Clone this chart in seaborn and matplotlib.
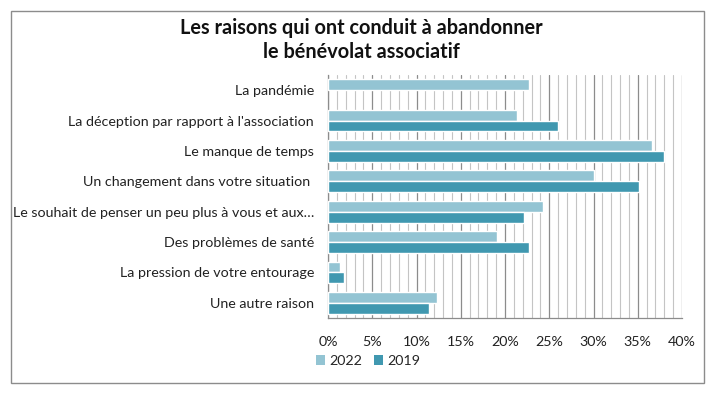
import pandas as pd
import matplotlib.pyplot as plt
import seaborn as sns
from matplotlib.ticker import MultipleLocator, PercentFormatter
from matplotlib.patches import Rectangle, Patch

# Values (percent)
raisons = [
    "La pandémie",
    "La déception par rapport à l'association",
    "Le manque de temps",
    "Un changement dans votre situation ",
    "Le souhait de penser un peu plus à vous et aux…",
    "Des problèmes de santé",
    "La pression de votre entourage",
    "Une autre raison",
]
val_2022 = [22.7, 21.3, 36.6, 30.0, 24.3, 19.1, 1.4, 12.3]
val_2019 = [None, 26.0, 38.0, 35.1, 22.1, 22.7, 1.8, 11.4]
annees = ["2022", "2019"]
couleurs = ["#93C4D3", "#4098B0"]

df = pd.DataFrame({
    "Raison": raisons * 2,
    "Annee": ["2022"] * len(raisons) + ["2019"] * len(raisons),
    "Valeur": val_2022 + val_2019,
})

sns.set_style("white")
plt.rcParams["font.family"] = ["Lato", "DejaVu Sans"]

fig = plt.figure(figsize=(7.23, 3.98), dpi=100)
ax = fig.add_axes([328 / 723, 1 - 318 / 398, (682 - 328) / 723, (318 - 75) / 398])

sns.barplot(data=df, x="Valeur", y="Raison", hue="Annee", hue_order=annees,
            palette=couleurs, orient="h", width=0.72, saturation=1,
            dodge=True, ax=ax, legend=False, zorder=3)

ax.set_xlim(0, 40)
ax.xaxis.set_major_locator(MultipleLocator(5))
ax.xaxis.set_minor_locator(MultipleLocator(1))
ax.xaxis.set_major_formatter(PercentFormatter(decimals=0))
ax.grid(which="major", axis="x", color="#8c8c8c", linewidth=0.9, zorder=0)
ax.grid(which="minor", axis="x", color="#c4c4c4", linewidth=0.8, zorder=0)
ax.set_axisbelow(True)
ax.set_xlabel("")
ax.set_ylabel("")
ax.tick_params(axis="both", which="both", length=0, labelsize=10.3, colors="#222222")
ax.tick_params(axis="x", pad=13)
ax.tick_params(axis="y", pad=10)
for s in ["top", "right"]:
    ax.spines[s].set_visible(False)
for s in ["left", "bottom"]:
    ax.spines[s].set_color("#8c8c8c")
    ax.spines[s].set_linewidth(0.9)

fig.text(0.5, 1 - 40 / 398, "Les raisons qui ont conduit à abandonner\nle bénévolat associatif",
         ha="center", va="center", fontsize=14.3, fontweight="bold", linespacing=1.3,
         color="#111111")

handles = [Patch(facecolor=c, edgecolor="none") for c in couleurs]
fig.legend(handles, annees, loc="center left", bbox_to_anchor=(306 / 723, 1 - 361 / 398),
           ncol=2, frameon=False, fontsize=10.3, handlelength=0.65, handleheight=0.65,
           handletextpad=0.3, columnspacing=0.8, borderpad=0.2)

fig.patches.append(Rectangle((11 / 723, 1 - 383 / 398), (704 - 11) / 723, (383 - 11) / 398,
                             transform=fig.transFigure, fill=False,
                             edgecolor="#8c8c8c", linewidth=1.0))

fig.savefig("out.png", dpi=100)
